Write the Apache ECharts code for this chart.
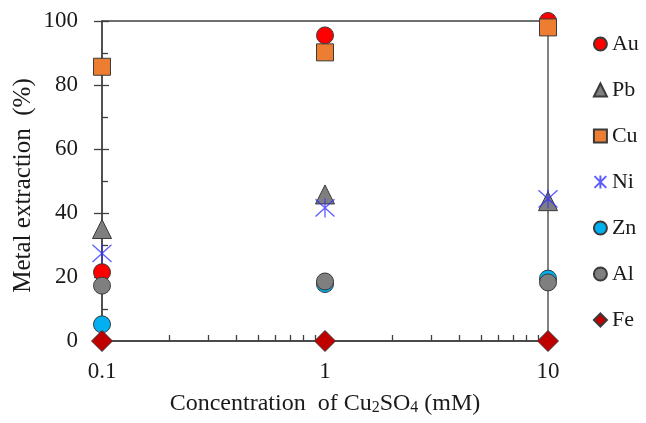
<!DOCTYPE html>
<html>
<head>
<meta charset="utf-8">
<script src="https://cdn.jsdelivr.net/npm/echarts@6/dist/echarts.min.js"></script>
<style>html,body{margin:0;padding:0;background:#fff}#c{width:646px;height:423px}</style>
</head>
<body>
<div id="c"></div>
<script>
var concentrations = [0.1, 1, 10];
var xTickLabels = [0.1, 1, 10];
var xMinorTicks = [0.2,0.3,0.4,0.5,0.6,0.7,0.8,0.9,2,3,4,5,6,7,8,9];
var yTickLabels = [0, 20, 40, 60, 80, 100];
var au = [21.5, 95.5, 100];
var pb = [35, 45.8, 43.7];
var cu = [85.7, 90.2, 98];
var ni = [27.4, 41.6, 44.4];
var zn = [5.2, 17.8, 19.5];
var al = [17.3, 18.6, 18.3];
var fe = [0, 0, 0];

var FONT = '"Liberation Serif","Times New Roman",serif';
var TXT = '#1a1a1a';
var AX = '#404040';
var EDGE = '#3a3a3a';

function pairs(vals){ return concentrations.map(function(c,i){ return [c, vals[i]]; }); }

function mk(name, vals, symbol, size, color, extra){
  var s = {
    name: name, type: 'scatter', data: pairs(vals), symbol: symbol, symbolSize: size,
    clip: false, xAxisIndex: 0, yAxisIndex: 0,
    itemStyle: { color: color, borderColor: EDGE, borderWidth: 1, opacity: 1 },
    emphasis: { disabled: true }
  };
  if (extra) for (var k in extra) s[k] = extra[k];
  return s;
}

var chart = echarts.init(document.getElementById('c'), null, { renderer: 'canvas' });
var option = {
  animation: false,
  backgroundColor: '#fff',
  grid: { left: 102, right: 98, top: 21, bottom: 82, show: true, borderColor: AX, borderWidth: 1.3, backgroundColor: 'transparent' },
  legend: {
    orient: 'vertical', left: 592, top: 33, padding: 0, itemWidth: 13, itemHeight: 13, itemGap: 24,
    textStyle: { fontFamily: FONT, fontSize: 22, color: TXT },
    data: ['Au','Pb','Cu','Ni','Zn','Al','Fe']
  },
  xAxis: [{
    type: 'log', logBase: 10, min: 0.1, max: 10,
    name: 'Concentration  of Cu{s|2}SO{s|4} (mM)', nameLocation: 'middle', nameGap: 50,
    nameTextStyle: { fontFamily: FONT, fontSize: 24, color: TXT,
      rich: { s: { fontFamily: FONT, fontSize: 16, color: TXT, verticalAlign: 'bottom', padding: [9,0,0,0] } } },
    axisLine: { show: true, lineStyle: { color: AX, width: 1.5 } },
    axisTick: { show: true, inside: true, length: 8, lineStyle: { color: AX, width: 1.3 } },
    axisLabel: { show: true, margin: 19, fontFamily: FONT, fontSize: 23, color: TXT,
      formatter: function(v){ return String(v); } },
    splitLine: { show: false }
  }, {
    type: 'log', logBase: 10, min: 0.1, max: 10, position: 'bottom', gridIndex: 0,
    axisLine: { show: false },
    axisTick: { show: true, inside: true, length: 6, customValues: xMinorTicks, lineStyle: { color: AX, width: 1.3 } },
    axisLabel: { show: false },
    splitLine: { show: false }
  }],
  yAxis: [{
    type: 'value', min: 0, max: 100, interval: 20,
    name: 'Metal extraction  (%)', nameLocation: 'middle', nameGap: 66, nameRotate: 90,
    nameMoveOverlap: false,
    nameTextStyle: { fontFamily: FONT, fontSize: 25, color: TXT, padding: [0,9,0,0] },
    axisLine: { show: true, lineStyle: { color: AX, width: 1.5 } },
    axisTick: { show: true, inside: false, length: 8, lineStyle: { color: AX, width: 1.3 } },
    axisLabel: { show: true, margin: 24, fontFamily: FONT, fontSize: 23, color: TXT },
    splitLine: { show: false }
  }, {
    type: 'value', min: 0, max: 100, interval: 20, position: 'left', offset: 0,
    axisLine: { show: false },
    axisTick: { show: true, inside: true, length: 7, lineStyle: { color: AX, width: 1.3 } },
    minorTick: { show: true, splitNumber: 2, length: 6, lineStyle: { color: AX, width: 1.3 } },
    axisLabel: { show: false },
    splitLine: { show: false }
  }],
  series: [
    mk('Au', au, 'circle', 17, '#FF0000'),
    mk('Pb', pb, 'triangle', 19, '#7F7F7F'),
    mk('Cu', cu, 'rect', 17, '#ED7D31'),
    mk('Ni', ni, 'path://M0,0L20,20M20,0L0,20M10,-1L10,21', 19, 'none',
       { itemStyle: { color: 'none', borderColor: '#3333FF', borderWidth: 1.3 } }),
    mk('Zn', zn, 'circle', 17, '#00B0F0'),
    mk('Al', al, 'circle', 17, '#7F7F7F'),
    mk('Fe', fe, 'diamond', 21, '#C00000')
  ]
};
chart.setOption(option);
</script>
</body>
</html>
